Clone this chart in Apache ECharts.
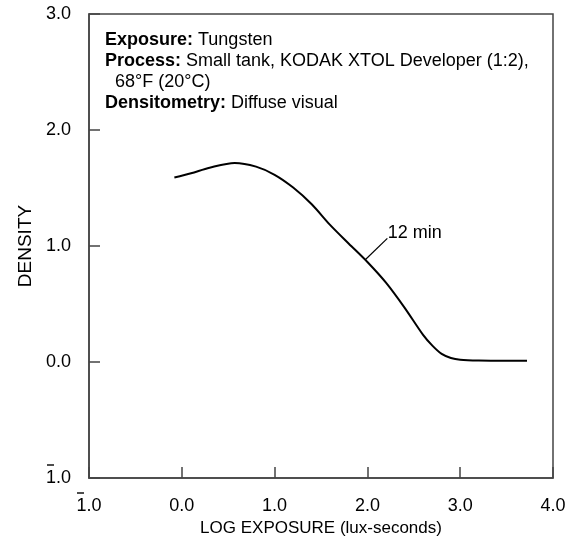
<!DOCTYPE html>
<html><head><meta charset="utf-8">
<script src="https://cdn.jsdelivr.net/npm/echarts@6/dist/echarts.min.js"></script>
<style>html,body{margin:0;padding:0;background:#fff}#c{width:575px;height:541px}</style>
</head><body><div id="c"></div>
<script>
// Data
const logExposure = [-0.08, 0.1, 0.3, 0.57, 0.8, 1.0, 1.2, 1.4, 1.6, 1.8, 2.0, 2.2, 2.4, 2.6, 2.7, 2.8, 2.9, 3.0, 3.2, 3.5, 3.72];
const density12min = [1.59, 1.627, 1.675, 1.716, 1.684, 1.614, 1.504, 1.36, 1.18, 1.02, 0.862, 0.684, 0.469, 0.234, 0.141, 0.07, 0.035, 0.02, 0.013, 0.011, 0.011];
// Tick labels: [text, overbar?]  (overbar marks the negative characteristic "1̄.0")
const xTickLabels = {"-1": ["1.0", true], "0": ["0.0", false], "1": ["1.0", false], "2": ["2.0", false], "3": ["3.0", false], "4": ["4.0", false]};
const yTickLabels = {"-1": ["1.0", true], "0": ["0.0", false], "1": ["1.0", false], "2": ["2.0", false], "3": ["3.0", false]};
const curveLabel = "12 min";
const leaderFrom = [1.974, 0.879];
const leaderTo = [2.215, 1.066];
const infoLines = [
  ["Exposure:", " Tungsten"],
  ["Process:", " Small tank, KODAK XTOL Developer (1:2),"],
  ["", "  68°F (20°C)"],
  ["Densitometry:", " Diffuse visual"]
];

const FONT = '"Liberation Sans", Arial, Helvetica, sans-serif';
const chart = echarts.init(document.getElementById('c'), null, {renderer: 'canvas'});
const axisCol = '#444';
const FS = 18;

const infoText = infoLines.map(l => (l[0] ? '{b|' + l[0] + '}' : '') + '{n|' + l[1] + '}').join('\n');
const tickRich = {
  n: {fontFamily: FONT, fontSize: FS, color: '#000', lineHeight: 18},
  sp: {fontSize: 6, lineHeight: 8, width: 1},
  bar: {fontSize: 6, lineHeight: 8, width: 7, height: 1.4, backgroundColor: '#000'},
  pad: {fontSize: 6, lineHeight: 8, width: 17}
};
const topLine = (bar) => bar ? '{bar| }{pad| }' : '{sp| }';
const xFmt = v => { const t = xTickLabels[String(v)]; return t ? topLine(t[1]) + '\n{n|' + t[0] + '}' : ''; };
const yFmt = v => { const t = yTickLabels[String(v)]; return t ? topLine(t[1]) + '\n{n|' + t[0] + '}\n{sp| }' : ''; };

chart.setOption({
  animation: false,
  backgroundColor: '#fff',
  grid: {left: 89, right: 22, top: 14, bottom: 63, show: true, borderColor: axisCol, borderWidth: 1.5, containLabel: false, outerBoundsMode: 'none'},
  xAxis: {
    type: 'value', min: -1, max: 4, interval: 1,
    name: 'LOG EXPOSURE (lux-seconds)', nameLocation: 'middle', nameGap: 40,
    nameTextStyle: {fontFamily: FONT, fontSize: 17, color: '#000'},
    axisLine: {show: true, onZero: false, lineStyle: {color: axisCol, width: 1.5}},
    axisTick: {show: true, inside: true, length: 11, lineStyle: {color: axisCol, width: 1.5}},
    axisLabel: {fontFamily: FONT, fontSize: FS, color: '#000', margin: 11, rich: tickRich, formatter: xFmt},
    splitLine: {show: false}
  },
  yAxis: {
    type: 'value', min: -1, max: 3, interval: 1,
    name: 'DENSITY', nameLocation: 'middle', nameGap: 52, nameRotate: 90,
    nameTextStyle: {fontFamily: FONT, fontSize: 19, color: '#000'},
    axisLine: {show: true, onZero: false, lineStyle: {color: axisCol, width: 1.5}},
    axisTick: {show: true, inside: true, length: 11, lineStyle: {color: axisCol, width: 1.5}},
    axisLabel: {fontFamily: FONT, fontSize: FS, color: '#000', margin: 18, rich: tickRich, formatter: yFmt},
    splitLine: {show: false}
  },
  graphic: [{
    type: 'text', left: 105, top: 30,
    style: {
      text: infoText, fontFamily: FONT, fontSize: FS, fill: '#000', lineHeight: 21,
      rich: {
        b: {fontFamily: FONT, fontSize: FS, fontWeight: 'bold', fill: '#000', lineHeight: 21},
        n: {fontFamily: FONT, fontSize: FS, fill: '#000', lineHeight: 21}
      }
    }
  }],
  series: [{
    type: 'line',
    data: logExposure.map((x, i) => [x, density12min[i]]),
    smooth: 0.3,
    symbol: 'none',
    lineStyle: {color: '#000', width: 2},
    markLine: {
      silent: true, symbol: 'none',
      lineStyle: {color: '#000', width: 1.2, type: 'solid'},
      label: {show: false},
      data: [[{coord: leaderFrom}, {coord: leaderTo}]]
    },
    markPoint: {
      silent: true, symbol: 'circle', symbolSize: 1,
      itemStyle: {color: 'rgba(0,0,0,0)'},
      label: {show: true, position: 'right', distance: 0, offset: [0, -5], formatter: curveLabel, fontFamily: FONT, fontSize: FS, color: '#000'},
      data: [{coord: leaderTo}]
    }
  }]
});
</script></body></html>
